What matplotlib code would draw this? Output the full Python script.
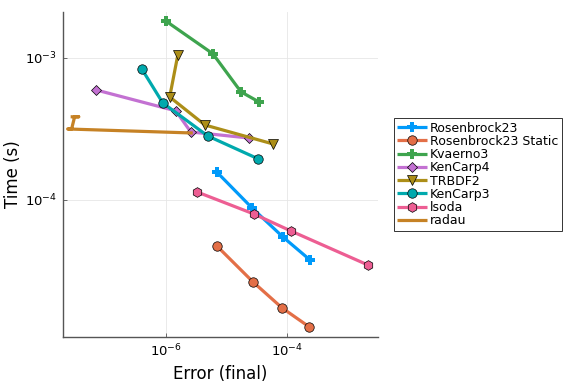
import numpy as np
import matplotlib
matplotlib.use("Agg")
import matplotlib.pyplot as plt
from matplotlib.ticker import FixedLocator, NullLocator

# error (final) / time (s) per solver
labels = ["Rosenbrock23", "Rosenbrock23 Static", "Kvaerno3", "KenCarp4",
          "TRBDF2", "KenCarp3", "lsoda", "radau"]

ros23_err = [6.97e-6, 2.64e-5, 8.6e-5, 2.4e-4]
ros23_time = [1.57e-4, 8.8e-5, 5.48e-5, 3.78e-5]

ros23s_err = [6.97e-6, 2.74e-5, 8.26e-5, 2.31e-4]
ros23s_time = [4.74e-5, 2.65e-5, 1.74e-5, 1.28e-5]

kv3_err = [1.0e-6, 5.98e-6, 1.74e-5, 3.45e-5]
kv3_time = [1.82e-3, 1.07e-3, 5.77e-4, 4.9e-4]

kc4_err = [6.97e-8, 1.46e-6, 2.59e-6, 2.35e-5]
kc4_time = [5.96e-4, 4.24e-4, 3.01e-4, 2.73e-4]

trbdf2_err = [1.58e-6, 1.16e-6, 4.42e-6, 5.87e-5]
trbdf2_time = [1.05e-3, 5.31e-4, 3.37e-4, 2.48e-4]

kc3_err = [4.01e-7, 8.92e-7, 4.94e-6, 3.32e-5]
kc3_time = [8.37e-4, 4.82e-4, 2.82e-4, 1.95e-4]

lsoda_err = [3.25e-6, 2.85e-5, 1.16e-4, 2.18e-3]
lsoda_time = [1.14e-4, 7.96e-5, 6.05e-5, 3.48e-5]

radau_err = [2.69e-8, 3.65e-8, 3.13e-8, 2.79e-8, 2.40e-8, 2.79e-6]
radau_time = [3.85e-4, 3.85e-4, 3.85e-4, 3.16e-4, 3.16e-4, 2.96e-4]

series = [
    (ros23_err, ros23_time, "#009AFA", "P", 7),
    (ros23s_err, ros23s_time, "#E36F47", "o", 6.8),
    (kv3_err, kv3_time, "#3EA44E", "P", 7),
    (kc4_err, kc4_time, "#C371D2", "D", 5),
    (trbdf2_err, trbdf2_time, "#AC8E18", "v", 7.5),
    (kc3_err, kc3_time, "#00A9AD", "o", 6.8),
    (lsoda_err, lsoda_time, "#ED5E93", "h", 7),
    (radau_err, radau_time, "#C68225", None, 0),
]

fig = plt.figure(figsize=(5.76, 3.84), dpi=100)
ax = fig.add_axes([0.109, 0.1224, 0.547, 0.8466])

for (x, y, c, m, ms), lab in zip(series, labels):
    if m == "P":
        ax.plot(x, y, color=c, lw=2.3, marker=m, ms=ms, mec=c, mew=0.0,
                label=lab, solid_capstyle="butt")
    elif m is None:
        ax.plot(x, y, color=c, lw=2.3, label=lab, solid_capstyle="butt")
    else:
        ax.plot(x, y, color=c, lw=2.3, marker=m, ms=ms, mec="black", mew=0.5,
                label=lab, solid_capstyle="butt")

ax.set_xscale("log")
ax.set_yscale("log")
ax.set_xlim(10 ** -7.70, 10 ** -2.50)
ax.set_ylim(10 ** -4.965, 10 ** -2.676)

ax.xaxis.set_major_locator(FixedLocator([1e-6, 1e-4]))
ax.yaxis.set_major_locator(FixedLocator([1e-4, 1e-3]))
ax.xaxis.set_minor_locator(NullLocator())
ax.yaxis.set_minor_locator(NullLocator())
ax.set_xticklabels([r"$10^{-6}$", r"$10^{-4}$"])
ax.set_yticklabels([r"$10^{-4}$", r"$10^{-3}$"])

ax.grid(True, color="#e6e6e6", lw=0.6)
ax.set_axisbelow(True)
for s in ("top", "right"):
    ax.spines[s].set_visible(False)
for s in ("left", "bottom"):
    ax.spines[s].set_color("#555555")
    ax.spines[s].set_linewidth(1.0)
ax.tick_params(direction="in", length=3, width=0.6, color="#555555",
               labelsize=9.5, pad=4)

ax.set_xlabel("Error (final)", fontsize=12)
ax.set_ylabel("Time (s)", fontsize=12, labelpad=2)

leg = ax.legend(loc="center left", bbox_to_anchor=(1.05, 0.5), fontsize=9,
                frameon=True, fancybox=False, edgecolor="black",
                borderpad=0.3, labelspacing=0.02, handlelength=2.4,
                handletextpad=0.2, borderaxespad=0.0)
leg.get_frame().set_linewidth(0.7)

fig.savefig("out.png", dpi=100)
